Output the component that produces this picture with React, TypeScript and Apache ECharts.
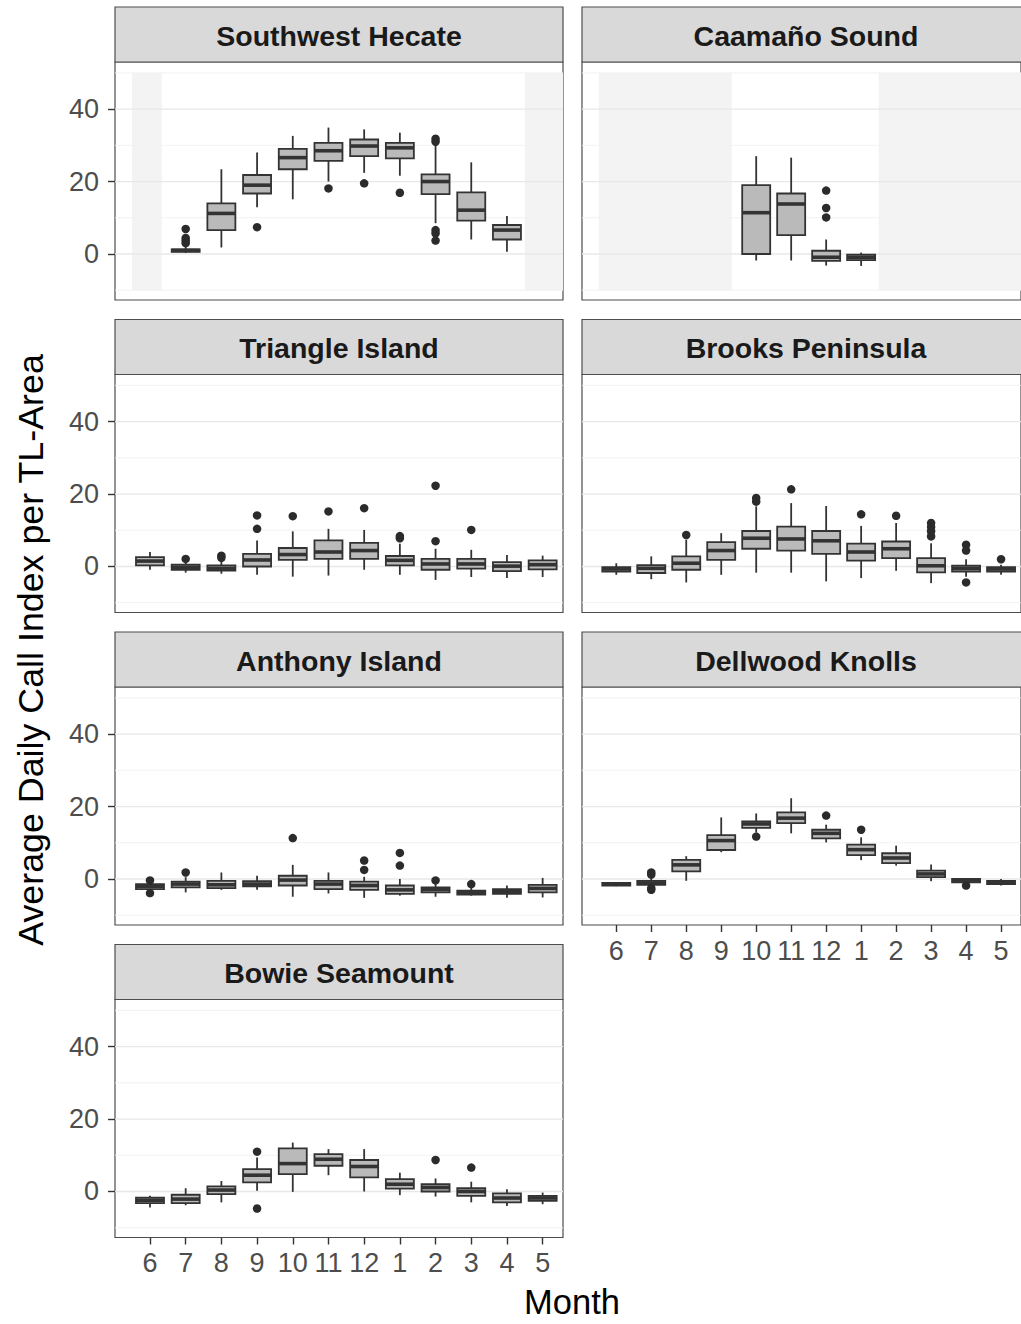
import React, { useEffect, useRef } from 'react';
import * as echarts from 'echarts';

// ---------- data ----------
const months = ['6', '7', '8', '9', '10', '11', '12', '1', '2', '3', '4', '5'];
const yTickValues = [0, 20, 40];
const majorGrid = [0, 20, 40];
const minorGrid = [-10, 10, 30, 50];

type Box = [string, number, number, number, number, number]; // month, min, Q1, median, Q3, max
type Out = [string, number];

const swHecateBoxes: Box[] = [
  ['7', 0.3, 0.6, 1.0, 1.3, 2.3],
  ['8', 1.8, 6.6, 11.2, 14.0, 23.4],
  ['9', 12.9, 16.7, 19.0, 21.8, 28.0],
  ['10', 15.1, 23.4, 26.6, 29.0, 32.6],
  ['11', 20.0, 25.7, 28.5, 30.7, 34.9],
  ['12', 22.4, 27.0, 29.8, 31.6, 34.4],
  ['1', 21.6, 26.4, 29.3, 30.7, 33.5],
  ['2', 8.5, 16.5, 20.0, 22.0, 30.0],
  ['3', 4.0, 9.2, 12.1, 17.0, 25.3],
  ['4', 0.6, 4.0, 6.6, 8.0, 10.5],
];
const swHecateOutliers: Out[] = [
  ['7', 6.9], ['7', 4.4], ['7', 3.7], ['7', 3.0],
  ['9', 7.4], ['11', 18.1], ['12', 19.5], ['1', 16.9],
  ['2', 31.8], ['2', 31.0], ['2', 6.6], ['2', 5.7], ['2', 3.7],
];

const caamanoBoxes: Box[] = [
  ['10', -1.8, 0.0, 11.4, 19.0, 27.0],
  ['11', -1.8, 5.2, 13.8, 16.7, 26.6],
  ['12', -3.2, -1.9, -0.9, 0.9, 4.0],
  ['1', -3.3, -1.7, -0.9, -0.2, 0.4],
];
const caamanoOutliers: Out[] = [['12', 17.5], ['12', 12.7], ['12', 10.1]];

const triangleBoxes: Box[] = [
  ['6', -0.9, 0.3, 1.5, 2.6, 4.0],
  ['7', -1.7, -0.9, -0.2, 0.5, 1.2],
  ['8', -2.0, -1.1, -0.5, 0.3, 1.7],
  ['9', -2.3, 0.0, 1.8, 3.5, 7.2],
  ['10', -2.8, 1.8, 3.3, 5.1, 9.7],
  ['11', -2.5, 2.1, 4.0, 7.2, 10.4],
  ['12', -0.9, 2.1, 4.4, 6.5, 10.1],
  ['1', -2.3, 0.3, 1.7, 2.9, 6.3],
  ['2', -3.7, -0.9, 0.7, 2.1, 4.9],
  ['3', -2.9, -0.6, 0.7, 2.1, 4.6],
  ['4', -3.2, -1.3, 0.1, 1.2, 3.2],
  ['5', -2.9, -0.8, 0.5, 1.7, 3.0],
];
const triangleOutliers: Out[] = [
  ['7', 2.1], ['8', 3.0], ['8', 2.4], ['9', 14.1], ['9', 10.4], ['10', 13.9],
  ['11', 15.2], ['12', 16.1], ['1', 8.4], ['1', 7.8], ['2', 22.3], ['2', 7.0], ['3', 10.1],
];

const brooksBoxes: Box[] = [
  ['6', -2.3, -1.4, -0.7, -0.2, 0.9],
  ['7', -3.5, -1.8, -0.5, 0.4, 2.8],
  ['8', -4.4, -0.9, 0.9, 2.8, 7.4],
  ['9', -2.3, 1.8, 4.4, 6.7, 9.2],
  ['10', -1.7, 4.9, 7.8, 9.8, 16.6],
  ['11', -1.7, 4.4, 7.6, 11.0, 17.5],
  ['12', -4.1, 3.5, 7.1, 9.8, 16.7],
  ['1', -3.2, 1.6, 4.0, 6.3, 11.2],
  ['2', -1.2, 2.3, 4.9, 6.9, 12.0],
  ['3', -4.6, -1.6, 0.2, 2.3, 6.4],
  ['4', -2.8, -1.4, -0.6, 0.2, 2.0],
  ['5', -2.3, -1.4, -0.7, -0.2, 0.5],
];
const brooksOutliers: Out[] = [
  ['8', 8.7], ['10', 18.9], ['10', 17.9], ['11', 21.3], ['1', 14.4], ['2', 14.0],
  ['3', 12.0], ['3', 10.9], ['3', 9.7], ['3', 8.3], ['4', 6.0], ['4', 4.4], ['4', -4.4], ['5', 2.0],
];

const anthonyBoxes: Box[] = [
  ['6', -3.3, -2.8, -2.0, -1.4, -0.9],
  ['7', -3.7, -2.3, -1.4, -0.7, 0.5],
  ['8', -3.0, -2.5, -1.6, -0.5, 1.8],
  ['9', -3.0, -2.0, -1.4, -0.6, 0.9],
  ['10', -4.9, -1.8, -0.3, 0.9, 3.9],
  ['11', -4.0, -2.8, -1.4, -0.5, 1.8],
  ['12', -5.2, -3.0, -1.8, -0.7, 0.6],
  ['1', -4.6, -4.1, -3.0, -1.8, 0.0],
  ['2', -4.9, -3.7, -2.9, -2.3, -0.9],
  ['3', -4.6, -4.3, -3.7, -3.2, -2.3],
  ['4', -5.2, -4.1, -3.4, -2.8, -1.8],
  ['5', -5.1, -3.7, -2.6, -1.6, 0.3],
];
const anthonyOutliers: Out[] = [
  ['6', -0.4], ['6', -3.9], ['7', 1.8], ['10', 11.3], ['12', 5.1], ['12', 2.5],
  ['1', 7.2], ['1', 3.7], ['2', -0.4], ['3', -1.4],
];

const dellwoodBoxes: Box[] = [
  ['6', -2.0, -1.8, -1.4, -1.1, -0.9],
  ['7', -1.9, -1.6, -1.1, -0.5, 0.5],
  ['8', -0.5, 2.1, 3.9, 5.3, 6.3],
  ['9', 7.4, 8.0, 10.6, 12.1, 17.0],
  ['10', 12.9, 14.1, 15.2, 15.9, 18.1],
  ['11', 12.6, 15.4, 16.8, 18.4, 22.3],
  ['12', 10.1, 11.2, 12.6, 13.6, 15.0],
  ['1', 5.2, 6.6, 8.1, 9.5, 11.5],
  ['2', 3.7, 4.4, 5.8, 7.1, 9.2],
  ['3', -0.6, 0.5, 1.4, 2.3, 4.0],
  ['4', -1.4, -0.9, -0.3, 0.0, 0.3],
  ['5', -1.8, -1.4, -0.9, -0.5, 0.0],
];
const dellwoodOutliers: Out[] = [
  ['7', 1.8], ['7', 1.2], ['7', -2.5], ['7', -3.0], ['10', 11.7], ['12', 17.5], ['1', 13.6], ['4', -1.8],
];

const bowieBoxes: Box[] = [
  ['6', -4.4, -3.2, -2.4, -1.7, -1.2],
  ['7', -3.8, -3.2, -2.1, -0.9, 0.9],
  ['8', -3.0, -0.7, 0.4, 1.4, 2.9],
  ['9', 0.2, 2.5, 4.5, 6.2, 9.4],
  ['10', -0.1, 4.8, 7.7, 11.9, 13.5],
  ['11', 4.5, 7.1, 8.9, 10.3, 11.7],
  ['12', 0.0, 3.9, 6.9, 8.7, 11.7],
  ['1', -1.0, 0.8, 2.0, 3.4, 5.2],
  ['2', -1.4, 0.0, 1.1, 2.0, 3.6],
  ['3', -3.0, -1.2, 0.0, 0.9, 2.7],
  ['4', -4.0, -3.0, -1.8, -0.5, 0.6],
  ['5', -3.5, -2.6, -1.8, -1.2, -0.3],
];
const bowieOutliers: Out[] = [['9', 11.0], ['9', -4.7], ['2', 8.7], ['3', 6.6]];

// periods without recordings (x in month-position units, y range of shading)
const swHecateShade: [number, number][] = [[0.5, 1.33], [11.5, 12.57]];
const caamanoShade: [number, number][] = [[0.5, 4.3], [8.5, 12.57]];
const shadeY: [number, number] = [-10, 50];

const siteNames = [
  'Southwest Hecate', 'Caamaño Sound', 'Triangle Island', 'Brooks Peninsula',
  'Anthony Island', 'Dellwood Knolls', 'Bowie Seamount',
];

// ---------- layout ----------
const X_MIN = 0.02;
const X_MAX = 12.57;
const Y_MIN = -12.7;
const Y_MAX = 53;
const COL_LEFT = [115, 582];
const PANEL_W = 448;
const ROW_TOP = [62, 374.5, 687, 999.5];
const PANEL_H = 238;
const STRIP_H = 55;
const FONT = "'Liberation Sans', Arial, Helvetica, sans-serif";

const panels = [
  { boxes: swHecateBoxes, outliers: swHecateOutliers, shade: swHecateShade, col: 0, row: 0, xlab: false },
  { boxes: caamanoBoxes, outliers: caamanoOutliers, shade: caamanoShade, col: 1, row: 0, xlab: false },
  { boxes: triangleBoxes, outliers: triangleOutliers, shade: [], col: 0, row: 1, xlab: false },
  { boxes: brooksBoxes, outliers: brooksOutliers, shade: [], col: 1, row: 1, xlab: false },
  { boxes: anthonyBoxes, outliers: anthonyOutliers, shade: [], col: 0, row: 2, xlab: false },
  { boxes: dellwoodBoxes, outliers: dellwoodOutliers, shade: [], col: 1, row: 2, xlab: true },
  { boxes: bowieBoxes, outliers: bowieOutliers, shade: [], col: 0, row: 3, xlab: true },
];

const mIdx = (m: string) => months.indexOf(m) + 1;
const monthPositions = months.map((_, i) => i + 1);

function buildOption() {
  const grid: any[] = [];
  const xAxis: any[] = [];
  const yAxis: any[] = [];
  const series: any[] = [];
  const graphic: any[] = [];

  panels.forEach((p, k) => {
    const left = COL_LEFT[p.col];
    const top = ROW_TOP[p.row];
    grid.push({
      left, top, width: PANEL_W, height: PANEL_H,
      show: true, backgroundColor: '#ffffff', borderColor: '#4d4d4d', borderWidth: 1.2,
      containLabel: false,
    });
    xAxis.push({
      type: 'value', gridIndex: k, min: X_MIN, max: X_MAX, position: 'bottom',
      axisLine: { show: false, onZero: false },
      splitLine: { show: false },
      axisTick: {
        show: p.xlab, customValues: monthPositions, length: 7, inside: false,
        lineStyle: { color: '#333333', width: 1.4 },
      },
      axisLabel: {
        show: p.xlab, customValues: monthPositions, margin: 12,
        fontSize: 27, color: '#4d4d4d', fontFamily: FONT,
        formatter: (v: number) => months[Math.round(v) - 1] ?? '',
      },
    });
    yAxis.push({
      type: 'value', gridIndex: k, min: Y_MIN, max: Y_MAX, position: 'left',
      axisLine: { show: false, onZero: false },
      splitLine: { show: false },
      axisTick: {
        show: p.col === 0, customValues: yTickValues, length: 7,
        lineStyle: { color: '#333333', width: 1.4 },
      },
      axisLabel: {
        show: p.col === 0, customValues: yTickValues, margin: 16,
        fontSize: 27, color: '#4d4d4d', fontFamily: FONT,
      },
    });

    // shading for periods without data
    series.push({
      type: 'custom', xAxisIndex: k, yAxisIndex: k, z: 1, silent: true,
      data: p.shade.map((s) => [s[0], s[1]]),
      encode: { x: [0, 1] },
      renderItem: (params: any, api: any) => {
        const a = api.coord([api.value(0), shadeY[1]]);
        const b = api.coord([api.value(1), shadeY[0]]);
        return {
          type: 'rect',
          shape: { x: a[0], y: a[1], width: b[0] - a[0], height: b[1] - a[1] },
          style: { fill: '#f3f3f3' },
        };
      },
    });
    // grid lines
    const gl = [
      ...minorGrid.map((v) => [v, 0]),
      ...majorGrid.map((v) => [v, 1]),
    ];
    series.push({
      type: 'custom', xAxisIndex: k, yAxisIndex: k, z: 2, silent: true,
      data: gl,
      encode: { y: 0 },
      renderItem: (params: any, api: any) => {
        const cs = params.coordSys;
        const y = api.coord([1, api.value(0)])[1];
        const major = api.value(1) === 1;
        return {
          type: 'line',
          shape: { x1: cs.x, y1: y, x2: cs.x + cs.width, y2: y },
          style: { stroke: major ? '#e8e8e8' : '#f1f1f1', lineWidth: major ? 1.3 : 0.9 },
        };
      },
    });
    // boxes
    series.push({
      type: 'custom', xAxisIndex: k, yAxisIndex: k, z: 3, silent: true,
      data: p.boxes.map((b) => [mIdx(b[0]), b[1], b[2], b[3], b[4], b[5]]),
      encode: { x: 0, y: [1, 2, 3, 4, 5] },
      renderItem: (params: any, api: any) => {
        const x = api.value(0);
        const cx = api.coord([x, 0])[0];
        const yMin = api.coord([x, api.value(1)])[1];
        const yQ1 = api.coord([x, api.value(2)])[1];
        const yMed = api.coord([x, api.value(3)])[1];
        const yQ3 = api.coord([x, api.value(4)])[1];
        const yMax = api.coord([x, api.value(5)])[1];
        const hw = 14;
        const stroke = '#333333';
        return {
          type: 'group',
          children: [
            { type: 'line', shape: { x1: cx, y1: yMax, x2: cx, y2: yQ3 }, style: { stroke, lineWidth: 1.8 } },
            { type: 'line', shape: { x1: cx, y1: yQ1, x2: cx, y2: yMin }, style: { stroke, lineWidth: 1.8 } },
            {
              type: 'rect',
              shape: { x: cx - hw, y: yQ3, width: hw * 2, height: Math.max(yQ1 - yQ3, 0.5) },
              style: { fill: '#bababa', stroke, lineWidth: 1.8 },
            },
            { type: 'line', shape: { x1: cx - hw, y1: yMed, x2: cx + hw, y2: yMed }, style: { stroke, lineWidth: 3.6 } },
          ],
        };
      },
    });
    // outliers
    series.push({
      type: 'scatter', xAxisIndex: k, yAxisIndex: k, z: 4, silent: true,
      symbol: 'circle', symbolSize: 8.5,
      itemStyle: { color: '#2b2b2b', opacity: 1 },
      data: p.outliers.map((o) => [mIdx(o[0]), o[1]]),
    });

    // strip
    graphic.push({
      type: 'rect', silent: true,
      shape: { x: left, y: top - STRIP_H, width: PANEL_W, height: STRIP_H },
      style: { fill: '#d9d9d9', stroke: '#4d4d4d', lineWidth: 1.2 },
    });
    graphic.push({
      type: 'text', silent: true,
      x: left + PANEL_W / 2, y: top - STRIP_H / 2 + 1,
      style: {
        text: siteNames[k], fontSize: 28.5, fontWeight: 'bold', fontFamily: FONT,
        fill: '#1a1a1a', align: 'center', verticalAlign: 'middle',
      },
    });
  });

  graphic.push({
    type: 'text', silent: true,
    x: 31, y: 650, rotation: Math.PI / 2,
    style: {
      text: 'Average Daily Call Index per TL-Area', fontSize: 35.8, fontFamily: FONT,
      fill: '#000000', align: 'center', verticalAlign: 'middle',
    },
  });
  graphic.push({
    type: 'text', silent: true,
    x: 572, y: 1302,
    style: {
      text: 'Month', fontSize: 34.5, fontFamily: FONT,
      fill: '#000000', align: 'center', verticalAlign: 'middle',
    },
  });

  return {
    animation: false,
    backgroundColor: '#ffffff',
    grid, xAxis, yAxis, series, graphic,
  };
}

export default function App() {
  const ref = useRef<HTMLDivElement>(null);
  useEffect(() => {
    if (!ref.current) return;
    const chart = echarts.init(ref.current, undefined, { renderer: 'svg' });
    chart.setOption(buildOption());
    return () => chart.dispose();
  }, []);
  return (
    <div
      ref={ref}
      style={{ position: 'absolute', left: 0, top: 0, width: 1021, height: 1324, background: '#fff' }}
    />
  );
}
